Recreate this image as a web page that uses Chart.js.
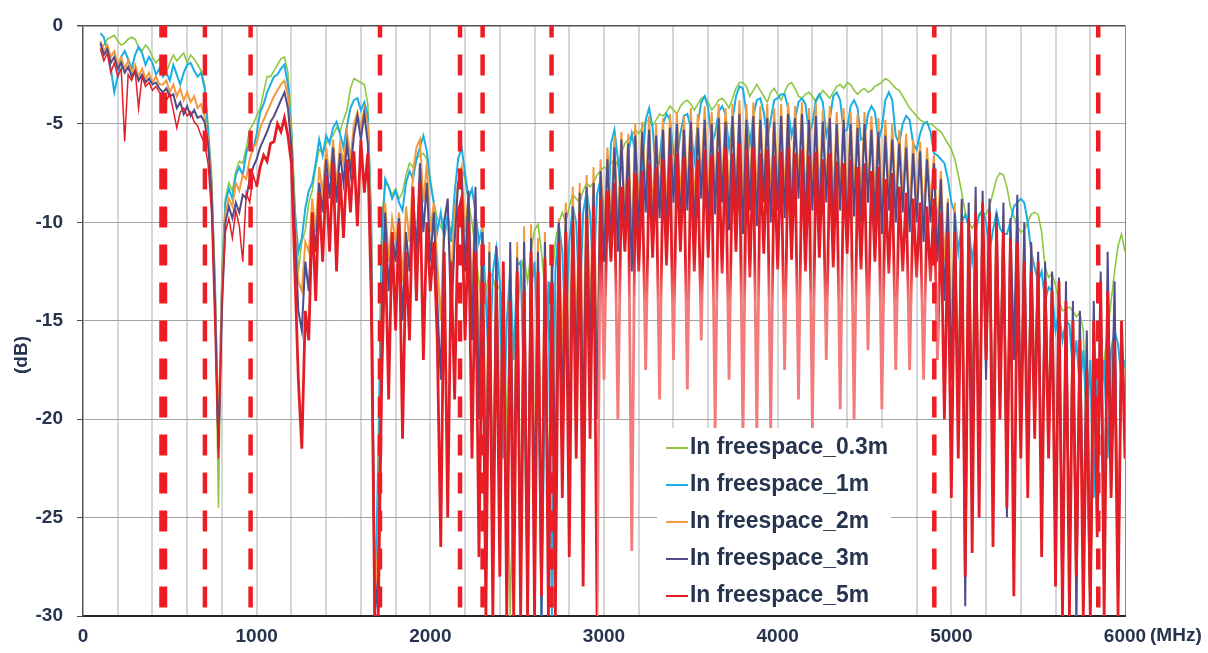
<!DOCTYPE html>
<html>
<head>
<meta charset="utf-8">
<script src="https://cdn.jsdelivr.net/npm/chart.js@4.4.1/dist/chart.umd.min.js"></script>
<style>
  html, body { margin: 0; padding: 0; background: #fff; }
  #chart { display: block; }
</style>
</head>
<body>
<canvas id="chart" width="1208" height="653"></canvas>
<script>
// frequency grid (MHz), 20 MHz steps from 100 to 6000
const freqs = Array.from({ length: 296 }, (_, i) => 100 + 20 * i);

const seriesNames = ['In freespace_0.3m', 'In freespace_1m', 'In freespace_2m', 'In freespace_3m', 'In freespace_5m'];
const seriesColors = ['#8dc63f', '#1aaee4', '#f29b3e', '#4f4c8c', '#e31d25'];

const xTicks = [0, 1000, 2000, 3000, 4000, 5000, 6000];
const yTicks = [0, -5, -10, -15, -20, -25, -30];
// red dashed band edges (MHz)
const bandEdges = [462, 702, 965, 1710, 2171, 2301, 2698, 4902, 5846];

// one row = 100 MHz (5 points)
const fs03 = [
  -1.2, -1.0, -0.7, -0.6, -0.5,
  -0.8, -1.0, -0.9, -0.7, -0.6,
  -0.7, -1.1, -1.3, -1.0, -1.2,
  -1.6, -1.9, -1.7, -2.0, -2.4,
  -1.9, -1.5, -1.8, -1.6, -1.4,
  -1.9, -1.5, -1.7, -2.0, -2.3,
  -3.0, -5.0, -7.5, -13.5, -24.5,
  -12.5, -8.8, -8.0, -8.4, -7.4,
  -6.9, -7.0, -6.2, -5.3, -5.0,
  -4.6, -4.2, -3.4, -2.6, -2.6,
  -2.3, -2.0, -1.7, -1.6, -2.4,
  -5.0, -9.0, -12.5, -11.0, -10.4,
  -9.0, -8.4, -7.2, -6.3, -6.5,
  -6.0, -5.8, -5.6, -5.2, -5.4,
  -4.8, -4.3, -3.2, -2.7, -2.8,
  -2.9, -3.0, -4.0, -10.0, -30,
  -24.0, -10.0, -8.0, -8.2, -8.6,
  -8.3, -8.8, -8.5, -7.6, -7.0,
  -7.2, -6.8, -6.6, -6.5, -6.8,
  -7.8, -9.0, -9.8, -10.2, -10.6,
  -9.8, -10.5, -9.5, -8.0, -7.2,
  -7.8, -9.0, -10.0, -11.5, -13.0,
  -14.6, -13.5, -12.5, -12.8, -13.5,
  -13.2, -14.5, -20.0, -30, -22.0,
  -15.0, -12.5, -11.8, -13.0, -11.5,
  -10.4, -10.1, -11.5, -13.5, -14.4,
  -13.0, -11.0, -10.0, -9.5, -10.0,
  -9.2, -8.6, -8.8, -9.0, -8.4,
  -8.0, -8.2, -8.0, -7.6, -7.4,
  -7.2, -7.3, -7.0, -6.8, -7.1,
  -6.5, -6.0, -5.8, -5.6, -5.3,
  -5.5, -5.2, -4.9, -4.8, -5.1,
  -4.8, -4.5, -4.6, -4.4, -4.1,
  -4.3, -4.5, -4.1, -3.9, -3.8,
  -4.0, -4.3, -4.0, -3.7, -3.6,
  -3.9, -4.3, -4.1, -3.8, -3.7,
  -3.9, -4.2, -3.7, -3.2, -2.9,
  -2.9, -3.1, -3.6, -3.3, -3.0,
  -3.3, -3.6, -3.9, -3.4, -3.2,
  -3.5, -3.8, -3.4, -3.0, -2.9,
  -3.2, -3.6, -3.7, -3.5, -3.4,
  -3.6, -3.9, -3.6, -3.3, -3.5,
  -3.7, -3.4, -3.1, -3.0, -3.2,
  -2.9, -3.0, -3.3, -3.5, -3.3,
  -3.2, -3.4, -3.3, -3.1, -3.0,
  -2.9, -2.7, -2.8, -3.0, -3.2,
  -3.3, -3.6, -3.9, -4.2, -4.4,
  -4.6, -4.8, -4.9, -5.0, -5.0,
  -5.1, -5.3, -5.4, -5.7, -6.0,
  -6.3, -6.8, -7.6, -8.5, -9.5,
  -10.0, -10.3, -10.0, -9.7, -9.5,
  -9.6, -9.2, -8.5, -7.8, -7.5,
  -7.6, -8.2, -9.2, -9.7, -10.2,
  -10.5, -10.4, -10.0, -9.6, -9.5,
  -9.6, -10.5, -12.3, -12.8, -12.6,
  -13.2, -14.0, -14.5, -14.4, -14.3,
  -14.5, -14.8, -14.6, -15.5, -22.0,
  -29.8, -20.0, -17.5, -19.0, -17.0,
  -15.5, -14.0, -12.5, -11.2, -10.6,
  -11.5
];

const fs1 = [
  -0.4, -0.6, -1.3, -2.2, -3.4,
  -2.6, -1.6, -1.3, -1.7, -2.2,
  -1.5, -1.1, -1.4, -2.0, -1.6,
  -1.9, -2.5, -2.2, -2.6, -2.4,
  -2.8, -2.0, -2.5, -3.0, -2.4,
  -2.0, -1.9, -2.3, -2.6, -2.4,
  -3.2, -5.4, -8.0, -13.0, -21.5,
  -13.0, -9.0, -8.3, -8.8, -7.6,
  -7.2, -7.6, -6.5, -5.9, -6.3,
  -5.5, -4.4, -4.0, -3.4, -3.0,
  -2.6, -2.5, -2.2, -2.0, -3.0,
  -5.5, -9.5, -11.5, -10.8, -9.3,
  -8.4, -8.0, -7.0, -5.8, -6.6,
  -5.6, -6.0, -5.2, -4.9, -5.5,
  -6.2, -5.1, -4.2, -3.8, -3.7,
  -4.3, -3.9, -4.6, -10.0, -30,
  -22.0, -11.0, -7.8, -8.2, -8.8,
  -8.4, -9.0, -9.4, -8.0, -7.4,
  -7.8, -6.8, -6.2, -5.6, -6.4,
  -8.0, -9.0, -10.5, -9.5, -10.8,
  -9.6, -11.0, -8.5, -6.8, -6.2,
  -7.5, -8.8, -8.3, -9.5, -11.0,
  -10.2, -14.0, -18.0, -12.5, -11.3,
  -13.0, -22.0, -15.0, -12.5, -17.0,
  -12.2, -12.0, -19.0, -28.0, -13.5,
  -12.0, -16.0, -30, -18.0, -13.0,
  -30, -12.5, -10.1, -11.5, -16.0,
  -11.0, -9.2, -10.0, -14.5, -9.5,
  -8.4, -9.6, -13.0, -8.6, -7.8,
  -9.5, -11.0, -6.0, -5.3, -6.8,
  -9.0, -10.3, -6.5, -5.5, -6.5,
  -8.5, -7.4, -4.8, -4.2, -5.2,
  -7.8, -6.8, -5.0, -4.5, -4.8,
  -6.5, -6.8, -5.5, -4.6, -4.5,
  -5.2, -6.8, -5.0, -3.9, -3.6,
  -4.2, -6.0, -5.5, -4.4, -4.1,
  -4.5, -6.2, -4.8, -3.6, -3.1,
  -3.2, -4.5, -6.0, -4.6, -3.8,
  -3.7, -4.4, -5.8, -4.8, -3.8,
  -3.7, -3.5, -3.5, -4.2, -5.6,
  -4.8, -3.9, -3.7, -4.0, -5.5,
  -5.0, -3.8, -3.5, -3.9, -5.6,
  -4.8, -3.6, -3.4, -3.8, -5.4,
  -5.3, -4.1, -3.8, -4.2, -5.8,
  -5.7, -4.5, -4.1, -4.4, -5.9,
  -5.2, -3.8, -3.4, -3.8, -5.6,
  -6.0, -5.0, -4.6, -4.8, -6.0,
  -6.3, -5.5, -5.0, -4.9, -5.4,
  -6.5, -6.6, -6.8, -7.0, -7.8,
  -9.0, -9.5, -11.5, -10.0, -9.6,
  -10.2, -12.0, -10.5, -9.6, -9.4,
  -10.0, -11.5, -10.4, -9.5, -10.3,
  -10.6, -10.6, -10.0, -9.2, -9.0,
  -8.8, -9.0, -10.0, -11.5, -12.3,
  -13.0, -12.5, -14.0, -13.3, -13.5,
  -15.5, -14.5, -16.0, -15.0, -15.2,
  -17.5, -16.0, -18.5, -16.5, -20.0,
  -17.0, -24.0, -18.0, -19.5, -17.0,
  -22.0, -16.5, -15.5, -16.2, -18.0,
  -17.0
];

const fs2 = [
  -0.8, -1.3, -1.0, -1.6, -1.3,
  -2.0, -1.6, -2.2, -1.8, -2.4,
  -2.0, -2.6, -2.2, -2.7, -2.4,
  -2.9, -2.6, -3.0, -3.0, -2.8,
  -3.4, -3.0, -3.6, -3.2, -3.8,
  -3.4, -3.9, -3.6, -4.2, -4.0,
  -4.6, -5.8, -8.0, -13.5, -20.5,
  -13.5, -9.5, -8.8, -9.2, -8.0,
  -8.4, -7.6, -7.8, -6.8, -6.2,
  -6.0, -5.2, -4.8, -4.4, -4.0,
  -3.6, -3.3, -3.0, -2.8, -3.6,
  -5.8, -10.0, -13.0, -13.5, -11.0,
  -11.5, -8.8, -10.5, -7.2, -8.5,
  -6.2, -7.8, -5.8, -8.2, -6.0,
  -7.0, -5.4, -6.8, -5.0, -4.4,
  -5.2, -4.2, -5.0, -11.0, -30,
  -26.0, -13.5, -9.0, -12.0, -9.8,
  -11.0, -9.5, -13.0, -9.2, -11.0,
  -7.5, -6.2, -5.8, -9.0, -7.0,
  -10.5, -9.0, -12.0, -15.0, -9.8,
  -9.2, -13.0, -9.5, -8.0, -7.2,
  -10.5, -8.6, -13.5, -8.8, -17.0,
  -10.0, -22.0, -11.0, -25.0, -11.5,
  -22.0, -12.0, -26.0, -11.5, -24.0,
  -11.0, -27.0, -10.2, -30, -10.1,
  -24.0, -10.8, -28.0, -10.5, -26.0,
  -11.5, -22.0, -9.8, -17.0, -9.0,
  -19.0, -8.2, -16.0, -8.0, -18.0,
  -7.6, -15.0, -7.2, -17.5, -6.8,
  -11.0, -6.2, -10.0, -5.6, -10.5,
  -5.4, -9.5, -5.5, -11.0, -5.0,
  -9.5, -4.9, -8.6, -4.6, -9.8,
  -5.0, -9.0, -4.7, -9.6, -4.5,
  -8.2, -4.4, -9.2, -4.6, -8.6,
  -4.2, -9.4, -4.5, -8.0, -4.1,
  -9.0, -4.4, -8.6, -4.0, -8.2,
  -4.2, -9.2, -4.0, -8.5, -3.8,
  -9.4, -4.0, -8.5, -3.9, -9.0,
  -4.1, -8.2, -4.0, -8.8, -4.2,
  -8.5, -4.0, -8.8, -3.9, -9.0,
  -4.1, -8.0, -3.9, -9.0, -4.2,
  -8.5, -4.0, -8.8, -4.3, -8.2,
  -4.1, -9.0, -4.4, -8.5, -4.2,
  -9.4, -4.4, -8.5, -4.5, -8.8,
  -4.4, -8.2, -4.6, -8.8, -4.7,
  -9.4, -4.8, -8.5, -5.0, -9.0,
  -5.3, -8.6, -5.5, -9.4, -5.8,
  -9.0, -5.9, -9.8, -6.2, -9.0,
  -6.6, -10.5, -7.4, -12.0, -8.8,
  -16.0, -9.0, -18.5, -9.0, -24.0,
  -9.4, -20.0, -8.8, -22.0, -9.0,
  -17.0, -9.2, -21.0, -9.8, -18.0,
  -9.6, -23.0, -10.2, -16.5, -10.0,
  -20.0, -10.5, -21.0, -11.2, -18.5,
  -11.8, -24.0, -12.5, -20.0, -13.0,
  -26.0, -13.5, -30, -14.0, -27.0,
  -14.5, -30, -15.0, -26.0, -16.0,
  -30, -15.0, -25.0, -13.5, -27.0,
  -13.0, -21.0, -14.0, -28.0, -15.5,
  -19.0
];

const fs3 = [
  -0.9, -1.5, -1.2, -1.9, -1.6,
  -2.2, -1.9, -2.4, -2.1, -2.6,
  -2.3, -2.8, -2.5, -2.9, -2.7,
  -3.0, -2.9, -3.2, -3.4, -3.2,
  -3.6, -3.5, -4.2, -3.9, -4.5,
  -4.1, -4.6, -4.3, -4.7, -4.6,
  -4.9, -6.0, -8.5, -14.0, -21.5,
  -14.5, -10.0, -9.2, -9.8, -9.0,
  -9.5, -8.6, -8.8, -7.8, -7.2,
  -6.8, -6.2, -5.8, -5.4, -4.9,
  -4.6, -4.2, -3.8, -3.4, -4.2,
  -6.2, -10.5, -14.5, -15.5, -12.0,
  -13.5, -9.5, -11.5, -8.0, -9.5,
  -6.8, -8.8, -6.2, -9.0, -6.5,
  -8.0, -6.0, -7.5, -5.6, -4.6,
  -5.8, -4.5, -6.0, -12.0, -30,
  -28.0, -15.0, -9.5, -13.5, -10.5,
  -12.0, -9.8, -15.0, -10.5, -12.5,
  -8.5, -11.5, -7.0, -10.5, -8.0,
  -12.0, -9.5, -14.0, -18.0, -10.0,
  -8.8, -15.0, -11.0, -8.0, -7.6,
  -12.5, -8.4, -16.0, -8.2, -20.0,
  -10.5, -25.0, -11.5, -27.0, -11.2,
  -24.0, -12.5, -28.0, -11.0, -26.0,
  -11.8, -29.0, -11.0, -27.5, -10.8,
  -25.5, -11.5, -30, -11.0, -27.0,
  -12.0, -24.0, -10.0, -20.0, -9.5,
  -22.0, -9.2, -18.0, -8.5, -21.0,
  -8.2, -17.0, -8.0, -20.0, -7.4,
  -12.0, -6.8, -11.0, -6.2, -11.5,
  -5.8, -10.5, -6.0, -12.5, -5.6,
  -10.5, -5.4, -9.5, -5.3, -10.8,
  -5.6, -9.8, -5.3, -10.5, -5.2,
  -9.0, -5.0, -10.2, -5.3, -9.4,
  -4.9, -10.6, -5.2, -8.8, -4.8,
  -10.2, -5.0, -9.6, -4.7, -9.0,
  -4.9, -10.4, -4.6, -9.3, -4.5,
  -10.6, -4.8, -9.4, -4.6, -10.2,
  -4.8, -9.0, -4.7, -10.0, -4.9,
  -9.4, -4.6, -9.8, -4.5, -10.0,
  -4.7, -8.8, -4.5, -10.3, -4.8,
  -9.4, -4.6, -10.0, -4.9, -9.0,
  -4.7, -10.3, -5.0, -9.4, -4.8,
  -10.6, -5.0, -9.7, -5.2, -10.0,
  -5.0, -9.0, -5.3, -10.0, -5.4,
  -10.6, -5.6, -9.4, -5.8, -10.0,
  -6.0, -9.5, -6.2, -10.5, -6.5,
  -10.0, -6.4, -11.0, -6.8, -10.0,
  -7.0, -12.0, -7.8, -14.0, -9.0,
  -18.0, -9.5, -20.0, -8.8, -29.5,
  -9.0, -22.0, -8.2, -24.0, -8.4,
  -18.0, -8.8, -23.0, -9.5, -19.0,
  -9.0, -25.0, -9.8, -17.0, -8.6,
  -21.0, -10.0, -22.0, -11.0, -19.5,
  -11.5, -25.0, -12.0, -21.0, -12.5,
  -26.0, -12.8, -30, -13.0, -28.0,
  -14.0, -30, -14.5, -27.0, -15.5,
  -30, -14.0, -24.0, -12.5, -28.0,
  -11.5, -22.0, -13.0, -29.0, -16.0,
  -20.0
];

const fs5 = [
  -1.2, -1.8, -1.4, -2.4, -1.9,
  -2.6, -2.2, -5.9, -2.5, -2.8,
  -2.3, -4.2, -2.6, -3.1, -2.9,
  -3.3, -3.1, -3.4, -3.6, -3.8,
  -3.5, -4.3, -5.2, -4.4, -4.2,
  -4.6, -4.4, -4.9, -5.1, -5.6,
  -6.0, -7.0, -9.5, -15.5, -22.0,
  -14.0, -10.5, -9.8, -10.8, -9.4,
  -10.2, -12.0, -8.5, -9.0, -7.6,
  -8.2, -7.2, -6.6, -6.9, -6.0,
  -5.9, -5.0, -5.4, -4.7, -5.6,
  -7.0, -12.5, -18.0, -21.5, -14.5,
  -16.0, -9.5, -14.0, -8.5, -12.0,
  -7.6, -11.5, -7.0, -12.5, -7.5,
  -10.8, -6.8, -9.5, -6.4, -10.2,
  -5.8, -8.5, -6.5, -14.0, -30,
  -30, -18.0, -11.0, -19.0, -10.5,
  -15.5, -10.0, -21.0, -11.5, -16.0,
  -8.2, -14.0, -8.0, -17.0, -10.0,
  -13.5, -11.0, -16.0, -26.5, -11.5,
  -25.0, -12.0, -19.0, -9.5, -8.8,
  -16.0, -10.0, -22.0, -11.5, -27.0,
  -13.0, -30, -12.5, -30, -13.0,
  -28.0, -12.0, -30, -14.0, -30,
  -12.5, -30, -13.5, -30, -11.5,
  -30, -12.5, -29.0, -11.8, -30,
  -14.0, -30, -11.0, -24.0, -10.5,
  -27.0, -10.0, -22.0, -9.5, -28.5,
  -9.8, -21.0, -9.2, -30, -8.8,
  -18.0, -8.4, -12.0, -8.0, -20.0,
  -8.2, -11.5, -7.8, -26.7, -7.5,
  -12.5, -7.4, -17.5, -7.0, -11.8,
  -7.2, -19.0, -6.8, -12.2, -6.6,
  -17.0, -6.5, -11.5, -6.7, -18.5,
  -6.4, -12.5, -6.8, -16.0, -6.3,
  -11.8, -6.6, -20.5, -6.4, -12.6,
  -6.2, -18.0, -6.5, -11.5, -6.0,
  -21.0, -6.3, -12.8, -6.2, -20.8,
  -6.5, -11.6, -6.3, -20.5, -6.6,
  -12.4, -6.4, -17.5, -6.2, -11.9,
  -6.5, -19.0, -6.3, -12.5, -6.6,
  -20.5, -6.4, -11.8, -6.8, -17.0,
  -6.5, -12.3, -6.9, -19.5, -7.0,
  -11.6, -6.8, -20.0, -7.2, -12.4,
  -7.0, -16.5, -7.4, -12.0, -7.2,
  -19.5, -7.8, -12.6, -7.5, -17.5,
  -8.2, -12.5, -8.5, -17.5, -8.8,
  -12.8, -9.0, -18.0, -9.2, -13.0,
  -8.8, -17.0, -9.5, -20.0, -10.5,
  -24.0, -10.5, -22.0, -10.0, -28.0,
  -9.8, -26.8, -9.5, -25.0, -9.0,
  -17.0, -9.5, -26.5, -10.0, -20.0,
  -10.5, -24.5, -10.8, -29.0, -11.0,
  -22.0, -12.0, -24.0, -12.5, -21.0,
  -12.0, -27.0, -13.0, -22.0, -13.5,
  -28.5, -13.0, -30, -14.0, -30,
  -15.0, -28.0, -16.0, -30, -17.5,
  -30, -15.0, -26.0, -13.0, -30,
  -13.5, -24.0, -16.0, -30, -15.0,
  -22.0
];

const allSeries = [fs03, fs1, fs2, fs3, fs5];
const lineWidths = [1.6, 2, 2, 2, 2.8];

const textColor = '#27344f';
const tickFont = { family: "'Liberation Sans', Arial, sans-serif", size: 19, weight: 'bold' };

// the 5 m trace reads lighter (pink) in the deep dips of the mid band
let redPattern = null, redKey = '';
function redStroke(c) {
  const chart = c.chart;
  const { chartArea: a, scales } = chart;
  if (!a || !scales.x || !scales.y) return seriesColors[4];
  const key = a.left + ',' + a.top + ',' + a.right + ',' + a.bottom;
  if (redPattern && key === redKey) return redPattern;
  const cv = document.createElement('canvas');
  cv.width = chart.width;
  cv.height = chart.height;
  const g = cv.getContext('2d');
  g.fillStyle = seriesColors[4];
  g.fillRect(0, 0, cv.width, cv.height);
  const x0 = scales.x.getPixelForValue(2960), x1 = scales.x.getPixelForValue(4930);
  const yTop = scales.y.getPixelForValue(-11.8), yPink = scales.y.getPixelForValue(-14);
  const grad = g.createLinearGradient(0, yTop, 0, yPink);
  grad.addColorStop(0, seriesColors[4]);
  grad.addColorStop(1, '#f37b7b');
  g.fillStyle = grad;
  g.fillRect(x0, yTop, x1 - x0, cv.height - yTop);
  redPattern = chart.ctx.createPattern(cv, 'no-repeat');
  redKey = key;
  return redPattern;
}

// thin trace below 1 GHz, heavy ripple mass above
const redSegment = {
  borderWidth: c => c.p1.parsed.x <= 1000 ? 1.5 : undefined
};

const overlay = {
  id: 'overlay',
  afterDatasetsDraw(chart) {
    const { ctx, chartArea: a, scales: { x } } = chart;
    ctx.save();
    // band edges
    ctx.strokeStyle = '#ee1c24';
    ctx.setLineDash([21, 17]);
    ctx.lineDashOffset = 9;
    bandEdges.forEach((f, i) => {
      const px = x.getPixelForValue(f);
      ctx.lineWidth = i === 0 ? 8 : 4.5;
      ctx.beginPath();
      ctx.moveTo(px, a.top);
      ctx.lineTo(px, a.bottom);
      ctx.stroke();
    });
    ctx.setLineDash([]);
    // legend box
    ctx.fillStyle = '#fff';
    ctx.fillRect(657, 428, 234, a.bottom - 429);
    ctx.font = "bold 23px 'Liberation Sans', Arial, sans-serif";
    ctx.textBaseline = 'middle';
    const fitW = 198 / ctx.measureText(seriesNames[0]).width;
    seriesNames.forEach((name, i) => {
      const y = 448 + 37 * i;
      ctx.strokeStyle = seriesColors[i];
      ctx.lineWidth = 2;
      ctx.beginPath();
      ctx.moveTo(666, y);
      ctx.lineTo(688, y);
      ctx.stroke();
      ctx.save();
      ctx.translate(690, y);
      ctx.scale(fitW, 1);
      ctx.fillStyle = textColor;
      ctx.fillText(name, 0, 0);
      ctx.restore();
    });
    ctx.restore();
  },
  afterDraw(chart) {
    const { ctx } = chart;
    ctx.save();
    ctx.fillStyle = textColor;
    ctx.font = "bold 19px 'Liberation Sans', Arial, sans-serif";
    ctx.textBaseline = 'middle';
    ctx.textAlign = 'left';
    ctx.fillText('(MHz)', 1150, 636);
    ctx.translate(22, 355);
    ctx.rotate(-Math.PI / 2);
    ctx.textAlign = 'center';
    ctx.fillText('(dB)', 0, 0);
    ctx.restore();
  }
};

const datasets = allSeries.map((vals, i) => ({
  label: seriesNames[i],
  data: freqs.map((f, j) => ({ x: f, y: vals[j] })),
  borderColor: i === 4 ? redStroke : seriesColors[i],
  borderWidth: lineWidths[i],
  pointRadius: 0,
  tension: 0,
  order: 4 - i,
  segment: i === 4 ? redSegment : undefined
}));

new Chart(document.getElementById('chart'), {
  type: 'line',
  data: { datasets },
  options: {
    responsive: false,
    animation: false,
    layout: { padding: { top: 18, right: 83, left: 0, bottom: 0 } },
    plugins: { legend: { display: false }, tooltip: { enabled: false } },
    scales: {
      x: {
        type: 'linear',
        min: 0,
        max: 6000,
        afterBuildTicks: s => {
          const t = [];
          for (let v = 0; v <= 6000; v += 200) t.push({ value: v });
          s.ticks = t;
        },
        afterFit: s => { s.height = 37; },
        ticks: {
          autoSkip: false,
          maxRotation: 0,
          color: textColor,
          font: tickFont,
          padding: 9,
          callback: v => xTicks.includes(v) ? String(v) : ''
        },
        grid: {
          drawTicks: false,
          color: c => c.tick.value === 0 ? 'rgba(0,0,0,0)' : (c.tick.value === 6000 ? '#8a8a8a' : '#d6d6d6'),
          lineWidth: c => c.tick.value === 6000 ? 1 : 2
        },
        border: { color: '#262626', width: 2 }
      },
      y: {
        min: -30,
        max: 0,
        afterBuildTicks: s => { s.ticks = yTicks.map(v => ({ value: v })); },
        afterFit: s => { s.width = 83; },
        ticks: { color: textColor, font: tickFont, padding: 14 },
        grid: {
          color: c => c.tick.value === 0 ? '#505050' : '#a3a3a3',
          lineWidth: c => c.tick.value === 0 ? 1.5 : 1,
          tickLength: 6,
          tickColor: '#505050'
        },
        border: { color: '#505050', width: 1.5 }
      }
    }
  },
  plugins: [overlay]
});
</script>
</body>
</html>
